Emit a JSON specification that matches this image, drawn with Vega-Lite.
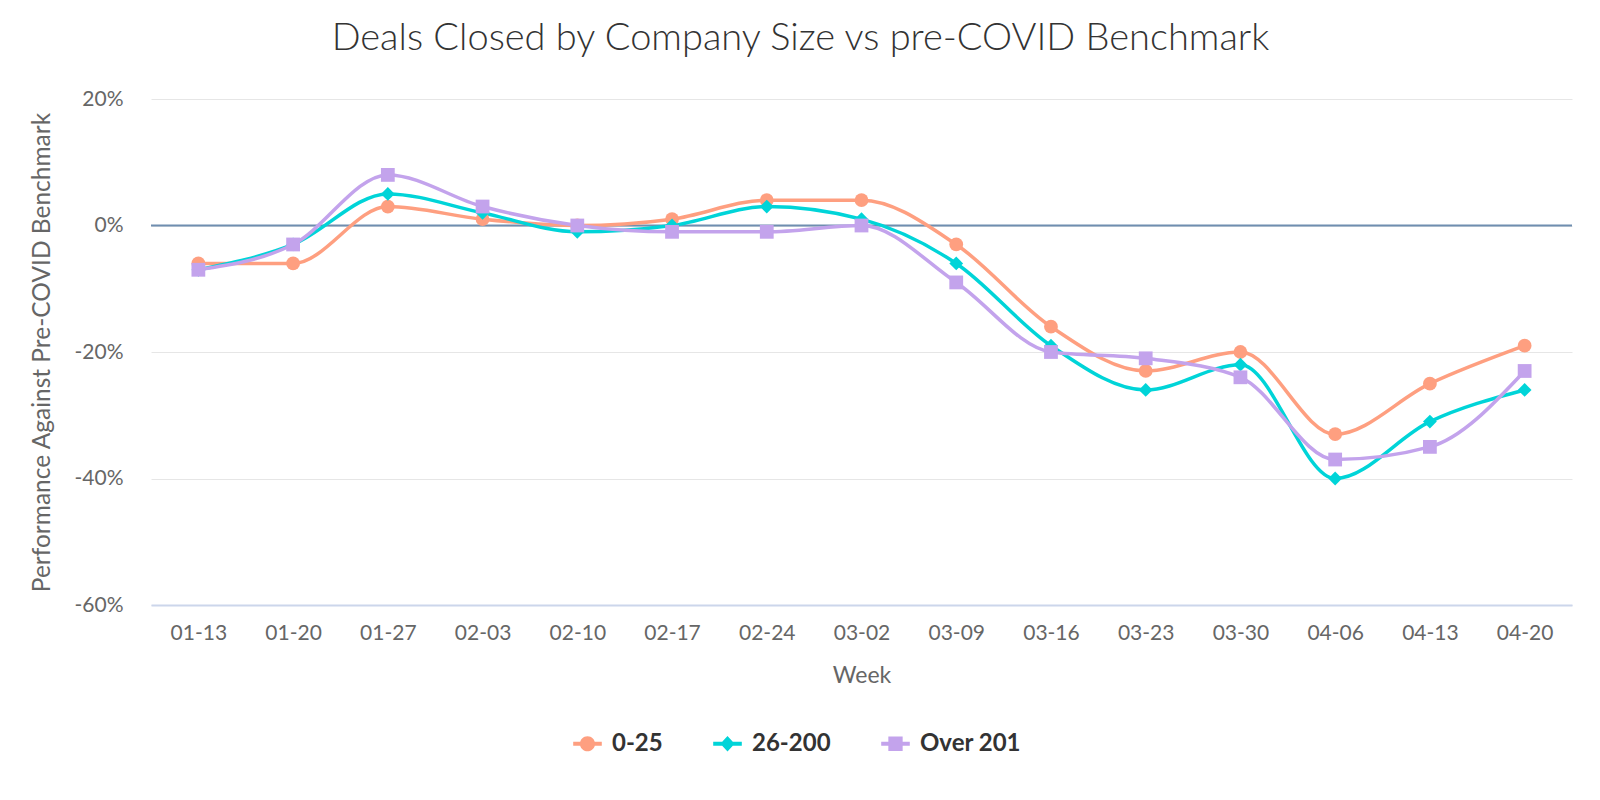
{
  "$schema": "https://vega.github.io/schema/vega-lite/v6.json",
  "autosize": "none",
  "width": 1421,
  "height": 506,
  "padding": {"left": 151, "top": 99, "right": 28, "bottom": 195},
  "background": "white",
  "config": {"font": "Lato", "view": {"stroke": null}},
  "title": {
    "text": "Deals Closed by Company Size vs pre-COVID Benchmark",
    "fontSize": 38,
    "font": "Lato",
    "fontWeight": 300,
    "color": "#333333",
    "anchor": "middle",
    "dx": -61,
    "offset": 30
  },
  "data": {
    "values": [
      {"week": "01-13", "group": "0-25", "value": -6},
      {"week": "01-20", "group": "0-25", "value": -6},
      {"week": "01-27", "group": "0-25", "value": 3},
      {"week": "02-03", "group": "0-25", "value": 1},
      {"week": "02-10", "group": "0-25", "value": 0},
      {"week": "02-17", "group": "0-25", "value": 1},
      {"week": "02-24", "group": "0-25", "value": 4},
      {"week": "03-02", "group": "0-25", "value": 4},
      {"week": "03-09", "group": "0-25", "value": -3},
      {"week": "03-16", "group": "0-25", "value": -16},
      {"week": "03-23", "group": "0-25", "value": -23},
      {"week": "03-30", "group": "0-25", "value": -20},
      {"week": "04-06", "group": "0-25", "value": -33},
      {"week": "04-13", "group": "0-25", "value": -25},
      {"week": "04-20", "group": "0-25", "value": -19},
      {"week": "01-13", "group": "26-200", "value": -7},
      {"week": "01-20", "group": "26-200", "value": -3},
      {"week": "01-27", "group": "26-200", "value": 5},
      {"week": "02-03", "group": "26-200", "value": 2},
      {"week": "02-10", "group": "26-200", "value": -1},
      {"week": "02-17", "group": "26-200", "value": 0},
      {"week": "02-24", "group": "26-200", "value": 3},
      {"week": "03-02", "group": "26-200", "value": 1},
      {"week": "03-09", "group": "26-200", "value": -6},
      {"week": "03-16", "group": "26-200", "value": -19},
      {"week": "03-23", "group": "26-200", "value": -26},
      {"week": "03-30", "group": "26-200", "value": -22},
      {"week": "04-06", "group": "26-200", "value": -40},
      {"week": "04-13", "group": "26-200", "value": -31},
      {"week": "04-20", "group": "26-200", "value": -26},
      {"week": "01-13", "group": "Over 201", "value": -7},
      {"week": "01-20", "group": "Over 201", "value": -3},
      {"week": "01-27", "group": "Over 201", "value": 8},
      {"week": "02-03", "group": "Over 201", "value": 3},
      {"week": "02-10", "group": "Over 201", "value": 0},
      {"week": "02-17", "group": "Over 201", "value": -1},
      {"week": "02-24", "group": "Over 201", "value": -1},
      {"week": "03-02", "group": "Over 201", "value": 0},
      {"week": "03-09", "group": "Over 201", "value": -9},
      {"week": "03-16", "group": "Over 201", "value": -20},
      {"week": "03-23", "group": "Over 201", "value": -21},
      {"week": "03-30", "group": "Over 201", "value": -24},
      {"week": "04-06", "group": "Over 201", "value": -37},
      {"week": "04-13", "group": "Over 201", "value": -35},
      {"week": "04-20", "group": "Over 201", "value": -23}
    ]
  },
  "encoding": {
    "x": {
      "field": "week",
      "type": "ordinal",
      "scale": {"type": "point", "padding": 0.5},
      "axis": {
        "title": "Week",
        "titleFont": "Lato",
        "titleFontSize": 23,
        "titleFontWeight": "normal",
        "titleColor": "#666666",
        "titlePadding": 21,
        "labelAngle": 0,
        "labelFontSize": 21,
        "labelColor": "#666666",
        "labelPadding": 17,
        "ticks": false,
        "domainColor": "#ccd6eb",
        "domainWidth": 2,
        "grid": false
      }
    },
    "y": {
      "field": "value",
      "type": "quantitative",
      "scale": {"domain": [-60, 20], "nice": false},
      "axis": {
        "title": "Performance Against Pre-COVID Benchmark",
        "titleFont": "Lato",
        "titleFontSize": 24.5,
        "titleFontWeight": "normal",
        "titleColor": "#666666",
        "titlePadding": 20,
        "values": [-60, -40, -20, 0, 20],
        "labelExpr": "datum.value + '%'",
        "labelFontSize": 21,
        "labelColor": "#666666",
        "labelPadding": 28,
        "ticks": false,
        "domain": false,
        "grid": true,
        "gridColor": "#e6e6e6",
        "gridWidth": 1
      }
    },
    "color": {
      "field": "group",
      "type": "nominal",
      "scale": {"domain": ["0-25", "26-200", "Over 201"], "range": ["#fe9f80", "#00d4d8", "#c3a3ec"]},
      "legend": {
        "title": null,
        "orient": "none",
        "direction": "horizontal",
        "legendX": 422,
        "legendY": 630,
        "labelFontSize": 24,
        "labelFontWeight": "bold",
        "labelColor": "#333333",
        "labelFont": "Lato",
        "labelOffset": 10,
        "columnPadding": 50,
        "symbolSize": 818,
        "encode": {
          "symbols": {
            "update": {
              "shape": {"signal": "datum.value === '0-25' ? 'M-1,-0.14H1V0.14H-1Z M0.53,0A0.53,0.53 0 1,1 -0.53,0A0.53,0.53 0 1,1 0.53,0Z' : datum.value === '26-200' ? 'M-1,-0.14H1V0.14H-1Z M0,-0.55L0.5,0L0,0.55L-0.5,0Z' : 'M-1,-0.14H1V0.14H-1Z M-0.5,-0.5H0.5V0.5H-0.5Z'"},
              "fill": {"signal": "scale('color', datum.value)"},
              "fillOpacity": {"value": 1},
              "opacity": {"value": 1},
              "strokeWidth": {"value": 0}
            }
          }
        }
      }
    }
  },
  "layer": [
    {
      "mark": {"type": "rule", "color": "#6f8eb0", "strokeWidth": 2},
      "data": {"values": [{"zero": 0}]},
      "encoding": {"y": {"field": "zero", "type": "quantitative"}, "x": null, "color": null}
    },
    {
      "mark": {"type": "line", "interpolate": "monotone", "strokeWidth": 3.5}
    },
    {
      "transform": [{"filter": "datum.group === '0-25'"}],
      "mark": {"type": "point", "shape": "circle", "filled": true, "opacity": 1, "size": 190}
    },
    {
      "transform": [{"filter": "datum.group === '26-200'"}],
      "mark": {"type": "point", "shape": "diamond", "filled": true, "opacity": 1, "size": 190}
    },
    {
      "transform": [{"filter": "datum.group === 'Over 201'"}],
      "mark": {"type": "point", "shape": "square", "filled": true, "opacity": 1, "size": 190}
    }
  ]
}
